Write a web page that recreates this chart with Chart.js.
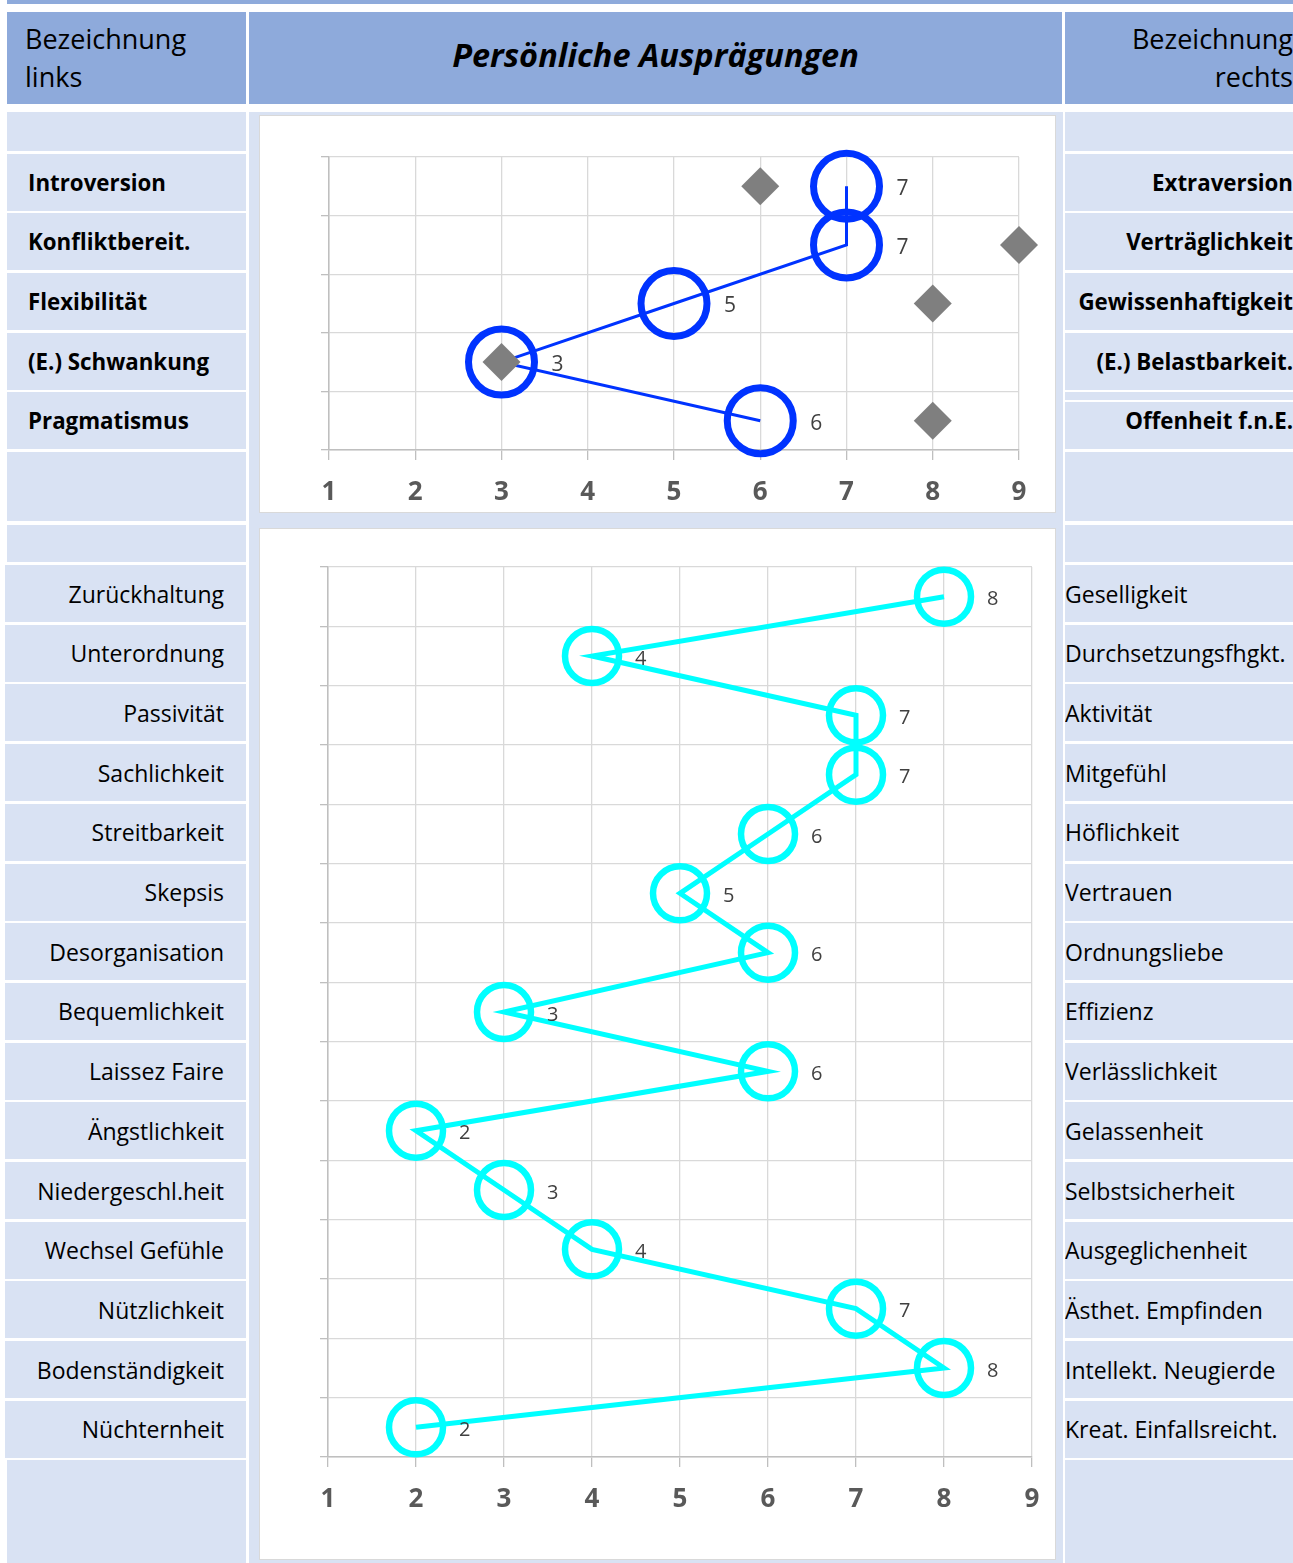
<!DOCTYPE html>
<html>
<head>
<meta charset="utf-8">
<script src="https://cdn.jsdelivr.net/npm/chart.js@4.4.1/dist/chart.umd.min.js"></script>
<style>
  html, body { margin: 0; padding: 0; background: #ffffff; }
  body { width: 1293px; height: 1563px; position: relative; overflow: hidden; font-family: "Open Sans", "Noto Sans", sans-serif; color: #000; }
  .box { position: absolute; box-sizing: border-box; }
  .dark { background: #8eaadb; }
  .light { background: #d9e2f3; }
  .white { background: #ffffff; }
  .cell { display: flex; align-items: center; overflow: hidden; white-space: nowrap; }
  .panel { background: #ffffff; border: 1px solid #d9d9d9; }
</style>
</head>
<body>
<div id="root"></div>
<script>
// ---------- data ----------
const topLeftLabels = ['Introversion', 'Konfliktbereit.', 'Flexibilität', '(E.) Schwankung', 'Pragmatismus'];
const topRightLabels = ['Extraversion', 'Verträglichkeit', 'Gewissenhaftigkeit', '(E.) Belastbarkeit.', 'Offenheit f.n.E.'];
const topValues = [7, 7, 5, 3, 6];
const topReference = [6, 9, 8, 3, 8];

const bottomLeftLabels = ['Zurückhaltung', 'Unterordnung', 'Passivität', 'Sachlichkeit', 'Streitbarkeit', 'Skepsis',
  'Desorganisation', 'Bequemlichkeit', 'Laissez Faire', 'Ängstlichkeit', 'Niedergeschl.heit', 'Wechsel Gefühle',
  'Nützlichkeit', 'Bodenständigkeit', 'Nüchternheit'];
const bottomRightLabels = ['Geselligkeit', 'Durchsetzungsfhgkt.', 'Aktivität', 'Mitgefühl', 'Höflichkeit', 'Vertrauen',
  'Ordnungsliebe', 'Effizienz', 'Verlässlichkeit', 'Gelassenheit', 'Selbstsicherheit', 'Ausgeglichenheit',
  'Ästhet. Empfinden', 'Intellekt. Neugierde', 'Kreat. Einfallsreicht.'];
const bottomValues = [8, 4, 7, 7, 6, 5, 6, 3, 6, 2, 3, 4, 7, 8, 2];

const xTickValues = [1, 2, 3, 4, 5, 6, 7, 8, 9];
const headerLeft = ['Bezeichnung', 'links'];
const headerRight = ['Bezeichnung', 'rechts'];
const headerTitle = 'Persönliche Ausprägungen';

// ---------- layout ----------
const root = document.getElementById('root');
function box(cls, x, y, w, h, html, style) {
  const d = document.createElement('div');
  d.className = 'box ' + cls;
  d.style.left = x + 'px'; d.style.top = y + 'px';
  d.style.width = w + 'px'; d.style.height = h + 'px';
  if (html !== undefined) d.innerHTML = html;
  if (style) Object.assign(d.style, style);
  root.appendChild(d);
  return d;
}

const LX = 7, LW = 239, RX = 1065, RW = 228, MX = 249, MW = 814;

box('dark', 7, 0, 1286, 4);
box('dark cell', LX, 12, LW, 92, headerLeft.join('<br>'), { fontSize: '27px', lineHeight: '38px', paddingLeft: '18px' });
box('dark cell', MX, 12, 813, 92, '<span>' + headerTitle + '</span>', { fontSize: '32.5px', fontWeight: '700', fontStyle: 'italic', justifyContent: 'center', paddingBottom: '7px' });
box('dark cell', RX, 12, RW, 92, headerRight.join('<br>'), { fontSize: '27px', lineHeight: '38px', justifyContent: 'flex-end', textAlign: 'right' });

// middle background and panels
box('light', MX, 112, MW, 1451);
box('panel', 259, 115, 797, 398);
box('panel', 259, 528, 797, 1032);

// left / right rows
box('light', LX, 112, LW, 39);
box('light', RX, 112, RW, 39);
const topRowTops = [154, 213, 273, 333, 392];
topLeftLabels.forEach((t, i) => {
  box('light cell', LX, topRowTops[i], LW, 57, t, { fontSize: '22.3px', fontWeight: '700', paddingLeft: '21px' });
});
topRightLabels.forEach((t, i) => {
  box('light cell', RX, topRowTops[i], RW, 57, t, { fontSize: '22.3px', fontWeight: '700', justifyContent: 'flex-end', paddingRight: '0px' });
});
box('white', RX, 400, RW, 2);
box('light', LX, 452, LW, 69);
box('light', RX, 452, RW, 69);
box('light', LX, 525, LW, 37);
box('light', RX, 525, RW, 37);
bottomLeftLabels.forEach((t, i) => {
  box('light cell', 5, 565 + i * 59.7, 241, 57, t, { fontSize: '23px', justifyContent: 'flex-end', paddingRight: '22px' });
});
bottomRightLabels.forEach((t, i) => {
  box('light cell', RX, 565 + i * 59.7, RW, 57, t, { fontSize: '23px', paddingLeft: '0px' });
});
box('light', LX, 1460, LW, 103);
box('light', RX, 1460, RW, 103);

// canvases
function makeCanvas(x, y, w, h) {
  const wrap = box('', x, y, w, h);
  const c = document.createElement('canvas');
  c.width = w; c.height = h;
  c.style.width = w + 'px'; c.style.height = h + 'px';
  wrap.appendChild(c);
  return c;
}

// ---------- chart helpers ----------
const valueLabelPlugin = {
  id: 'valueLabels',
  afterDatasetsDraw(chart) {
    const ctx = chart.ctx;
    chart.data.datasets.forEach((ds, di) => {
      if (!ds.valueLabel) return;
      const meta = chart.getDatasetMeta(di);
      ctx.save();
      ctx.font = ds.valueLabel.font;
      ctx.fillStyle = '#404040';
      ctx.textAlign = 'left';
      ctx.textBaseline = 'middle';
      meta.data.forEach((pt, i) => {
        ctx.fillText(String(ds.data[i].x), pt.x + ds.valueLabel.dx, pt.y + ds.valueLabel.dy);
      });
      ctx.restore();
    });
  }
};

function buildChart(canvas, rows, values, reference, opts) {
  const n = rows;
  const mainData = values.map((v, i) => ({ x: v, y: n - i - 0.5 }));
  const datasets = [];
  if (reference) {
    datasets.push({
      data: reference.map((v, i) => ({ x: v, y: n - i - 0.5 })),
      showLine: false,
      pointStyle: 'rectRot',
      pointRadius: 19,
      pointBackgroundColor: '#7f7f7f',
      pointBorderColor: '#7f7f7f',
      pointBorderWidth: 0,
      clip: false,
      order: 0
    });
  }
  datasets.push({
    data: mainData,
    showLine: true,
    borderColor: opts.color,
    borderWidth: opts.lineWidth,
    tension: 0,
    pointStyle: 'circle',
    pointRadius: opts.radius,
    pointBorderWidth: opts.ringWidth,
    pointBorderColor: opts.color,
    pointBackgroundColor: 'rgba(0,0,0,0)',
    clip: false,
    order: 1,
    valueLabel: { font: opts.labelFont, dx: opts.labelDx, dy: 3 }
  });

  return new Chart(canvas, {
    type: 'scatter',
    data: { datasets },
    plugins: [valueLabelPlugin],
    options: {
      responsive: false,
      animation: false,
      events: [],
      layout: { padding: opts.padding, autoPadding: false },
      plugins: { legend: { display: false }, tooltip: { enabled: false } },
      scales: {
        x: {
          type: 'linear',
          min: xTickValues[0],
          max: xTickValues[xTickValues.length - 1],
          afterBuildTicks: (s) => { s.ticks = xTickValues.map(v => ({ value: v })); },
          afterFit: (s) => { s.height = opts.xAxisHeight; s.paddingLeft = 0; s.paddingRight = 0; },
          grid: { color: '#d9d9d9', lineWidth: 1.3, drawTicks: true, tickLength: 10, tickColor: '#bfbfbf', tickWidth: 1.3 },
          border: { color: '#bfbfbf', width: 1.5 },
          ticks: { color: '#595959', font: { family: '"Open Sans", sans-serif', size: 26, weight: '700' }, padding: 17, maxRotation: 0 }
        },
        y: {
          type: 'linear',
          min: 0,
          max: n,
          afterBuildTicks: (s) => { s.ticks = Array.from({ length: n + 1 }, (_, k) => ({ value: k })); },
          afterFit: (s) => { s.width = 8; s.paddingTop = 0; s.paddingBottom = 0; },
          grid: { color: '#d9d9d9', lineWidth: 1.3, drawTicks: true, tickLength: 8, tickColor: '#bfbfbf', tickWidth: 1.3 },
          border: { color: '#bfbfbf', width: 1.5 },
          ticks: { display: false }
        }
      }
    }
  });
}

const c1 = makeCanvas(260, 116, 795, 396);
buildChart(c1, topLeftLabels.length, topValues, topReference, {
  color: '#0033ff', lineWidth: 3, radius: 33, ringWidth: 7,
  labelFont: '21px "Open Sans", sans-serif', labelDx: 50,
  padding: { left: 61, right: 36, top: 41, bottom: 0 },
  xAxisHeight: 62
});

const c2 = makeCanvas(260, 529, 795, 1030);
buildChart(c2, bottomLeftLabels.length, bottomValues, null, {
  color: '#00ffff', lineWidth: 5, radius: 27, ringWidth: 6.5,
  labelFont: '20px "Open Sans", sans-serif', labelDx: 43,
  padding: { left: 60, right: 23, top: 38, bottom: 0 },
  xAxisHeight: 102
});
</script>
</body>
</html>
